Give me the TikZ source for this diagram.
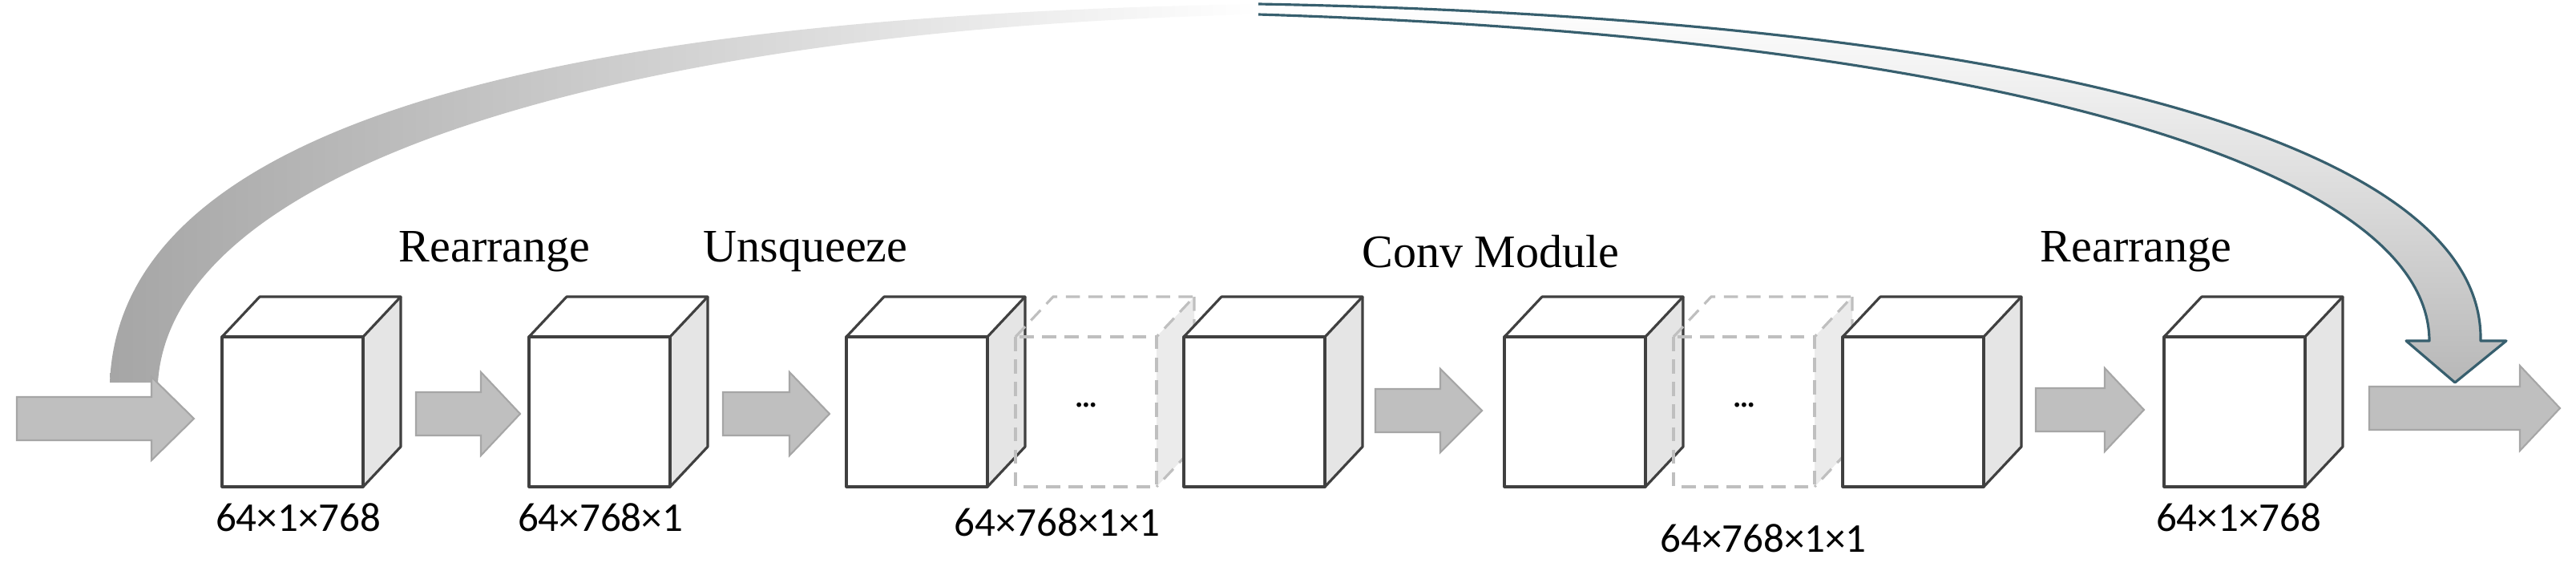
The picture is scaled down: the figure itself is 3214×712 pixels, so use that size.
\documentclass[tikz,border=0pt]{standalone}
\usepackage{fontspec}
\setmainfont{Liberation Serif}
\newfontfamily\dimfont{Carlito}
\begin{document}
\begin{tikzpicture}[x=0.01cm,y=-0.01cm,
  edge/.style={draw=black!75,line width=0.9pt,line join=round},
  dedge/.style={draw=black!25,line width=0.9pt,dash pattern=on 5pt off 3pt},
  barrow/.style={fill=black!25,draw=black!35,line width=0.6pt},
  op/.style={font=\fontsize{16.5}{18}\selectfont},
  dim/.style={font=\dimfont\fontsize{14.5}{16}\selectfont}]
\useasboundingbox (0,0) rectangle (3214,712);
\newcommand{\mycube}[2]{%
  \coordinate (#1) at (#2+88,513);
  \fill[white] (#2,420) rectangle (#2+176,607);
  \fill[white] (#2,420) -- (#2+47,370) -- (#2+223,370) -- (#2+176,420) -- cycle;
  \fill[black!10] (#2+176,420) -- (#2+223,370) -- (#2+223,557) -- (#2+176,607) -- cycle;
  \draw[edge] (#2,420) rectangle (#2+176,607);
  \draw[edge] (#2,420) -- (#2+47,370) -- (#2+223,370) -- (#2+176,420);
  \draw[edge] (#2+223,370) -- (#2+223,557) -- (#2+176,607);}
\newcommand{\mydcube}[2]{%
  \coordinate (#1) at (#2+88,513);
  \fill[black!8] (#2+176,420) -- (#2+223,370) -- (#2+223,557) -- (#2+176,607) -- cycle;
  \draw[dedge] (#2,420) rectangle (#2+176,607);
  \draw[dedge] (#2,420) -- (#2+47,370) -- (#2+223,370) -- (#2+176,420);
  \draw[dedge] (#2+223,370) -- (#2+223,557) -- (#2+176,607);
  \node at (#2+88,505) {\textbf{...}};}
\newcommand{\myarrow}[5]{% x0 x1 xhead yc halfhead
  \draw[barrow] (#1,#4-27) -- (#3,#4-27) -- (#3,#4-#5) -- (#2,#4) -- (#3,#4+#5) -- (#3,#4+27) -- (#1,#4+27) -- cycle;}
% skip connection band
\shade[left color=black!35,right color=white] (137,477) .. controls (150,150) and (700,20) .. (1570,5)
  -- (1570,18) .. controls (800,35) and (215,200) .. (197,477) -- cycle;
\fill[top color=white,bottom color=black!28] (1570,5) .. controls (2500,22) and (3100,170) .. (3095,425)
  -- (3127,425) -- (3063,477) -- (3002,425) -- (3031,425)
  .. controls (3030,200) and (2450,45) .. (1570,18) -- cycle;
\draw[draw={rgb,255:red,55;green,95;blue,110},line width=0.9pt,line join=round]
  (1570,5) .. controls (2500,22) and (3100,170) .. (3095,425)
  -- (3127,425) -- (3063,477) -- (3002,425) -- (3031,425)
  .. controls (3030,200) and (2450,45) .. (1570,18);
% arrows
\myarrow{21}{242}{189}{522}{52}
\myarrow{519}{649}{600}{516}{52}
\myarrow{902}{1035}{985}{516}{52}
\myarrow{1716}{1849}{1797}{512}{52}
\myarrow{2540}{2675}{2626}{511}{52}
\myarrow{2956}{3194}{3144}{509}{53}
% cubes
\mycube{c1}{277}
\mycube{c2}{660}
\mycube{c3}{1056}
\mydcube{c4}{1267}
\mycube{c5}{1477}
\mycube{c6}{1877}
\mydcube{c7}{2088}
\mycube{c8}{2299}
\mycube{c9}{2700}
% labels
\node[op] (l1) at (617,314) {Rearrange};
\node[op] (l2) at (1005,314) {Unsqueeze};
\node[op] (l3) at (1860,314) {Conv Module};
\node[op] (l4) at (2665,314) {Rearrange};
\node[dim] (d1) at (372,645) {64×1×768};
\node[dim] (d2) at (749,645) {64×768×1};
\node[dim] (d3) at (1319,651) {64×768×1×1};
\node[dim] (d4) at (2200,671) {64×768×1×1};
\node[dim] (d5) at (2793,645) {64×1×768};
\end{tikzpicture}
\end{document}
